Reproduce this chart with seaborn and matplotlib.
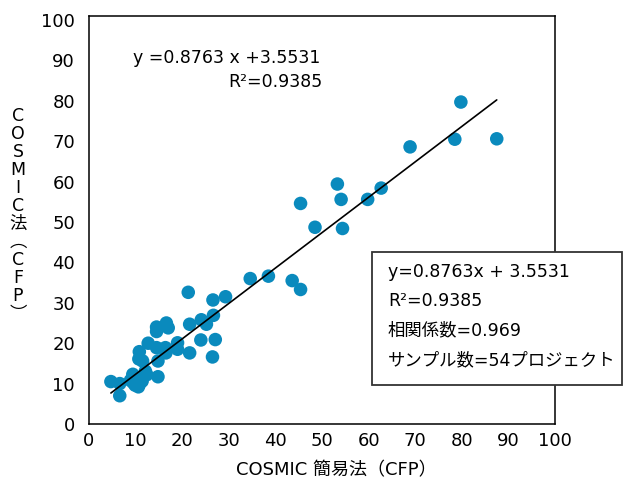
import matplotlib
matplotlib.use("Agg")
import matplotlib.pyplot as plt
import seaborn as sns
from matplotlib.patches import Rectangle

# COSMIC 簡易法 (x) vs COSMIC法 (y), CFP
cosmic_simple = [4.7, 6.6, 6.6, 9.4, 9.5, 10.8, 10.6, 10.3, 12.1, 10.7,
                 10.8, 12.7, 14.8, 14.8, 14.5, 16.4, 19.0, 19.0, 21.6, 24.0,
                 14.5, 14.5, 16.6, 17.0, 21.6, 24.1, 25.2, 26.7, 27.1, 26.5,
                 21.3, 26.6, 29.3, 34.6, 38.5, 43.6, 45.4, 45.4, 48.5, 54.4,
                 54.1, 53.3, 59.8, 62.7, 68.9, 78.5, 79.8, 87.5, 11.5, 16.5,
                 9.9, 11.4, 8.9, 12.4]
cosmic = [10.5, 10.0, 7.0, 12.3, 10.2, 9.8, 9.2, 11.3, 13.1, 16.1,
          17.9, 20.0, 15.6, 11.7, 18.9, 18.9, 20.1, 18.5, 17.6, 20.8,
          24.0, 22.9, 25.0, 23.8, 24.7, 25.8, 24.7, 26.9, 20.9, 16.6,
          32.6, 30.7, 31.5, 36.0, 36.6, 35.5, 33.3, 54.6, 48.7, 48.4,
          55.6, 59.4, 55.6, 58.4, 68.6, 70.5, 79.7, 70.6, 15.6, 17.6,
          9.6, 10.6, 10.8, 12.2]

slope = 0.8763
intercept = 3.5531
box_lines = ["y=0.8763x + 3.5531", "R²=0.9385", "相関係数=0.969",
             "サンプル数=54プロジェクト"]

sns.set_style("white")
plt.rcParams['font.family'] = ['DejaVu Sans', 'Noto Sans CJK JP']
plt.rcParams['text.color'] = 'black'

W, H = 625, 482
fig = plt.figure(figsize=(W / 100, H / 100), dpi=100)
ax = fig.add_axes([89 / W, 1 - 424 / H, (555 - 89) / W, (424 - 16) / H])

def fx(px):
    return px / W

def fy(py):
    return 1 - py / H

sns.scatterplot(x=cosmic_simple, y=cosmic, ax=ax, color="#0a8abd", s=95,
                edgecolor="none", zorder=2)

# fitted line, drawn over the data range
line_x = [min(cosmic_simple), max(cosmic_simple)]
line_y = [slope * v + intercept for v in line_x]
sns.lineplot(x=line_x, y=line_y, ax=ax, color="black", linewidth=1.2, zorder=3)

ax.set_xlim(0, 100)
ax.set_ylim(0, 101)
ax.set_xticks(range(0, 101, 10))
ax.set_yticks(range(0, 101, 10))
ax.tick_params(direction="in", length=5, width=1.1, labelsize=13, colors="black")
ax.tick_params(axis="x", pad=6)
ax.tick_params(axis="y", pad=10)
for tl in (ax.xaxis.get_major_ticks(), ax.yaxis.get_major_ticks()):
    tl[0].tick1line.set_visible(False)
    tl[-1].tick1line.set_visible(False)
for sp in ax.spines.values():
    sp.set_color("black")
    sp.set_linewidth(1.1)

ax.set_xlabel("COSMIC 簡易法（CFP）", fontsize=13, color="black")
ax.xaxis.label.set_va("center")
ax.xaxis.set_label_coords(0.53, -0.113)

ylab = "\n".join(list("COSMIC法") + ["︵", "C", "F", "P", "︶"])
fig.text(fx(18), fy(215), ylab, fontsize=12.5, ha="center", va="center",
         linespacing=1.0, multialignment="center")

# equation text inside the plot
fig.text(fx(133), fy(58), "y =0.8763 x +3.5531", fontsize=12.5,
         ha="left", va="center")
fig.text(fx(323), fy(82), "R²=0.9385", fontsize=12.5, ha="right", va="center")

# stats box
rect = Rectangle((fx(372), fy(385)), fx(622) - fx(372), fy(252) - fy(385),
                 transform=fig.transFigure, facecolor="white",
                 edgecolor="#333333", linewidth=1.3, zorder=5)
fig.patches.append(rect)
for txt, py in zip(box_lines, [272, 301, 330, 360]):
    fig.text(fx(388), fy(py), txt, fontsize=12.5, ha="left", va="center",
             zorder=6)

fig.savefig("out.png", dpi=100, facecolor="white")
